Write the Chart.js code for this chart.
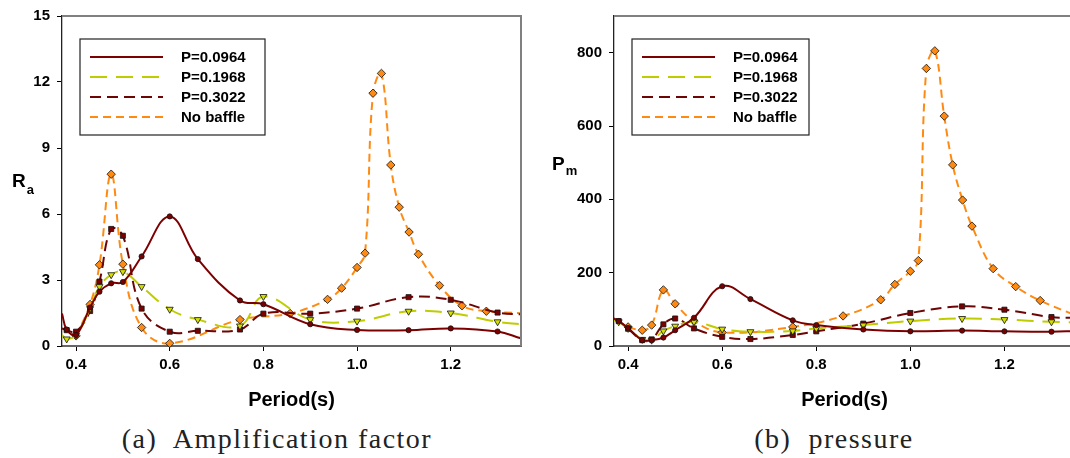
<!DOCTYPE html>
<html>
<head>
<meta charset="utf-8">
<script src="https://cdn.jsdelivr.net/npm/chart.js@4"></script>
<style>
  html, body { margin: 0; padding: 0; background: #fff; overflow: hidden; }
  body { width: 1070px; height: 458px; position: relative; }
  canvas { position: absolute; top: 0; }
  #ra_chart { left: 0; }
  #pm_chart { left: 540px; }
  .caption {
    position: absolute; top: 423px; width: 420px; text-align: center;
    font-family: 'Liberation Serif', serif; font-size: 28px; line-height: 32px;
    letter-spacing: 1.5px; color: #222; white-space: pre;
  }
</style>
</head>
<body>
<canvas id="ra_chart" width="530" height="420"></canvas>
<canvas id="pm_chart" width="540" height="420"></canvas>
<div class="caption" style="left: 67px;">(a)  Amplification factor</div>
<div class="caption" style="left: 624px;">(b)  pressure</div>

<script>
// periods (s); first and last entries are only curve ends, no marker
const periodBaffle = [0.37, 0.38, 0.40, 0.43, 0.45, 0.475, 0.50, 0.54, 0.60, 0.66, 0.75, 0.80, 0.90, 1.00, 1.11, 1.20, 1.30, 1.35];
const periodNoBaffle = [0.40, 0.43, 0.45, 0.475, 0.50, 0.54, 0.60, 0.75, 0.857, 0.937, 0.967, 1.00, 1.017, 1.034, 1.052, 1.072, 1.09, 1.111, 1.131, 1.176, 1.224, 1.276, 1.35];

// amplification factor Ra
const ra0964 = [1.48, 0.75, 0.5, 1.75, 2.47, 2.85, 2.91, 4.07, 5.89, 3.95, 2.07, 1.9, 0.99, 0.73, 0.72, 0.8, 0.66, 0.35];
const ra1968 = [0.5, 0.32, 0.5, 1.7, 2.7, 3.24, 3.38, 2.7, 1.67, 1.2, 0.91, 2.25, 1.2, 1.13, 1.58, 1.5, 1.1, 0.99];
const ra3022 = [0.8, 0.72, 0.65, 1.59, 2.93, 5.32, 5.01, 1.7, 0.65, 0.69, 0.75, 1.47, 1.47, 1.7, 2.22, 2.1, 1.52, 1.44];
const raNoBaffle = [0.46, 1.89, 3.69, 7.81, 3.72, 0.84, 0.12, 1.2, 1.48, 2.12, 2.63, 3.57, 4.22, 11.49, 12.39, 8.23, 6.31, 5.18, 4.17, 2.75, 1.83, 1.58, 1.49];

// pressure Pm
const pm0964 = [75, 68, 49, 16, 16, 23, 43, 77, 163, 128, 70, 57, 45, 40, 42, 40, 39, 41];
const pm1968 = [72, 66, 48, 18, 16, 41, 54, 66, 46, 39, 41, 48, 57, 68, 75, 72, 66, 64];
const pm3022 = [72, 68, 47, 16, 18, 59, 75, 48, 25, 19, 30, 40, 61, 90, 108, 99, 79, 77];
const pmNoBaffle = [52, 43, 57, 153, 115, 68, 37, 52, 82, 126, 168, 204, 233, 757, 805, 627, 494, 398, 327, 211, 162, 124, 84];

const seriesLabels = ['P=0.0964', 'P=0.1968', 'P=0.3022', 'No baffle'];
const periodTicks = [0.4, 0.6, 0.8, 1.0, 1.2];
const raTicks = [0, 3, 6, 9, 12, 15];
const pmTicks = [0, 200, 400, 600, 800];

const xMin = 0.37, xMax = 1.35;
const boldFont = '"Liberation Sans", Arial, sans-serif';

const toPoints = (xs, ys) => xs.map((x, i) => ({ x: x, y: ys[i] }));

// hide markers on the pure curve ends
const markerSize = (r) => (ctx) => {
    const p = ctx.raw;
    if (p && (p.x <= xMin || p.x >= xMax)) return 0;
    return r;
};

const styles = [
    { color: '#7d0000', dash: [], fill: '#7d0000', shape: 'circle', r: 2.6, rot: 0 },
    { color: '#bfcc00', dash: [17, 9], fill: '#d6e000', shape: 'triangle', r: 4, rot: 180 },
    { color: '#6e0505', dash: [11, 6], fill: '#7d0000', shape: 'rect', r: 3.6, rot: 0 },
    { color: '#ff8a12', dash: [8, 5], fill: '#ff8a12', shape: 'rectRot', r: 4.2, rot: 0 }
];

const makeDataset = (i, xs, ys) => {
    const s = styles[i];
    return {
        label: seriesLabels[i],
        data: toPoints(xs, ys),
        showLine: true,
        borderColor: s.color,
        borderWidth: 2,
        borderDash: s.dash,
        tension: 0.4,
        pointStyle: s.shape,
        pointRotation: s.rot,
        pointRadius: markerSize(s.r),
        pointBackgroundColor: s.fill,
        pointBorderColor: '#111',
        pointBorderWidth: 0.8,
        clip: { left: 0, top: 0, right: 1, bottom: 2 }
    };
};

// frame, inner legend and subscripted y title
const chartDecor = {
    id: 'chartDecor',
    afterDatasetsDraw(chart, args, opts) {
        const ctx = chart.ctx;
        const a = chart.chartArea;
        ctx.save();
        ctx.strokeStyle = '#808080';
        ctx.lineWidth = 2;
        ctx.beginPath();
        ctx.moveTo(a.left, a.top);
        ctx.lineTo(a.right, a.top);
        ctx.lineTo(a.right, a.bottom);
        ctx.stroke();

        const bx = a.left + 18, by = a.top + 23, bw = opts.boxWidth, bh = 96;
        ctx.fillStyle = '#fff';
        ctx.fillRect(bx, by, bw, bh);
        ctx.strokeStyle = '#222';
        ctx.lineWidth = 1.2;
        ctx.strokeRect(bx, by, bw, bh);
        ctx.font = 'bold 15px ' + boldFont;
        ctx.textBaseline = 'middle';
        ctx.textAlign = 'left';
        chart.data.datasets.forEach((ds, i) => {
            const y = by + 18 + i * 20;
            ctx.strokeStyle = ds.borderColor;
            ctx.lineWidth = ds.borderWidth;
            ctx.setLineDash(ds.borderDash);
            ctx.beginPath();
            ctx.moveTo(bx + 10, y);
            ctx.lineTo(bx + 83, y);
            ctx.stroke();
            ctx.setLineDash([]);
            ctx.fillStyle = '#000';
            ctx.fillText(ds.label, bx + 101, y + 1);
        });

        ctx.textBaseline = 'alphabetic';
        ctx.fillStyle = '#000';
        ctx.font = 'bold 19px ' + boldFont;
        ctx.fillText(opts.title[0], 12, opts.titleY);
        const w = ctx.measureText(opts.title[0]).width;
        ctx.font = 'bold 13px ' + boldFont;
        ctx.fillText(opts.title[1], 12 + w + 1, opts.titleY + opts.subShift);
        ctx.restore();
    }
};

const getConfig = (datasets, yMax, yTicks, yAxisWidth, rightPad, decor) => {
    return {
        type: 'scatter',
        data: { datasets: datasets },
        options: {
            responsive: false,
            animation: false,
            devicePixelRatio: 1,
            layout: { padding: { top: 13, right: rightPad, left: 0, bottom: 0 } },
            scales: {
                x: {
                    type: 'linear',
                    min: xMin,
                    max: xMax,
                    afterBuildTicks: (s) => { s.ticks = periodTicks.map(v => ({ value: v })); },
                    afterFit: (s) => { s.height = 74; },
                    ticks: {
                        callback: (v) => v.toFixed(1),
                        font: { family: boldFont, size: 15, weight: 'bold' },
                        color: '#000',
                        padding: 5,
                        maxRotation: 0
                    },
                    grid: { drawOnChartArea: false, drawTicks: true, tickLength: 5, color: '#000', lineWidth: 1 },
                    border: { display: true, color: '#666', width: 2 },
                    title: {
                        display: true,
                        text: 'Period(s)',
                        color: '#000',
                        font: { family: boldFont, size: 20, weight: 'bold' },
                        padding: { top: 0, bottom: 8 }
                    }
                },
                y: {
                    min: 0,
                    max: yMax,
                    afterBuildTicks: (s) => { s.ticks = yTicks.map(v => ({ value: v })); },
                    afterFit: (s) => { s.width = yAxisWidth; },
                    ticks: {
                        font: { family: boldFont, size: 15, weight: 'bold' },
                        color: '#000',
                        padding: 7
                    },
                    grid: { drawOnChartArea: false, drawTicks: true, tickLength: 5, color: '#000', lineWidth: 1 },
                    border: { display: true, color: '#222', width: 1.3 }
                }
            },
            plugins: {
                legend: { display: false },
                tooltip: { enabled: false },
                chartDecor: decor
            }
        },
        plugins: [chartDecor]
    };
};

const raChart = document.getElementById('ra_chart');
const pmChart = document.getElementById('pm_chart');

new Chart(raChart, getConfig([
    makeDataset(0, periodBaffle, ra0964),
    makeDataset(1, periodBaffle, ra1968),
    makeDataset(2, periodBaffle, ra3022),
    makeDataset(3, periodNoBaffle, raNoBaffle)
], 15, raTicks, 62, 9, { boxWidth: 185, title: ['R', 'a'], titleY: 187, subShift: 7 }));

// right panel runs slightly past the page edge, so its right frame is cut off
new Chart(pmChart, getConfig([
    makeDataset(0, periodBaffle, pm0964),
    makeDataset(1, periodBaffle, pm1968),
    makeDataset(2, periodBaffle, pm3022),
    makeDataset(3, periodNoBaffle, pmNoBaffle)
], 900, pmTicks, 74, 3, { boxWidth: 177, title: ['P', 'm'], titleY: 170, subShift: 5 }));
</script>
</body>
</html>
